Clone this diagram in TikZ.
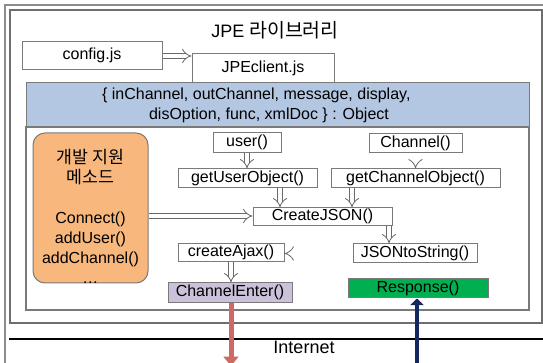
\documentclass[tikz,border=0pt]{standalone}
\usepackage{fontspec}
\setmainfont{Liberation Sans}
\newfontfamily\krfont[Scale=1.08]{Noto Sans CJK KR}
\usetikzlibrary{arrows.meta}
\definecolor{framegray}{HTML}{8C8C8C}
\definecolor{frametwo}{HTML}{6E6E6E}
\definecolor{boxgray}{HTML}{7A7A7A}
\definecolor{arrowgray}{HTML}{6A6A6A}
\definecolor{bluefill}{HTML}{B4C7E2}
\definecolor{orangefill}{HTML}{F8B77C}
\definecolor{lavender}{HTML}{CCC1DA}
\definecolor{greenfill}{HTML}{00B050}
\definecolor{redc}{HTML}{CD6A63}
\definecolor{navy}{HTML}{13285C}
\begin{document}
\begin{tikzpicture}[x=0.75pt,y=-0.75pt,
  font=\fontsize{12}{15}\selectfont,
  box/.style={draw=boxgray, line width=0.75pt, inner sep=0pt, fill=white},
  fbox/.style={box, text height=9pt, text depth=3pt},
  hollow/.style={draw=arrowgray, line width=0.6pt, double=white, double distance=3.2pt, -{Implies[scale=1.35]}}]
\useasboundingbox (0,0) rectangle (543,363);
% frames
\draw[framegray, line width=1.6pt] (5,375) -- (5,5) -- (560,5);
\draw[frametwo, line width=0.8pt] (10,10) rectangle (542,323);
\draw[boxgray, line width=0.8pt] (26,127) rectangle (529,310);
% title
\node (title) at (275,30) {\fontsize{13.5}{15}\selectfont JPE {\krfont 라이브러리}};
% top boxes
\node[fbox, minimum width=105pt, minimum height=21pt] (config) at (92,56) {config.js};
\node[fbox, minimum width=106.5pt, minimum height=21.75pt] (jpe) at (263,68.5) {JPEclient.js};
\node[box, fill=bluefill, minimum width=377.25pt, minimum height=33pt] (obj) at (277.5,105) {};
\node[align=center] (objtext) at (269,105) {\{ inChannel, outChannel, message, display,\rule{19pt}{0pt}\\disOption, func, xmlDoc \} : Object};
% orange box
\node[box, fill=orangefill, rounded corners=9pt, minimum width=86.25pt, minimum height=112.5pt] (dev) at (90.5,208) {};
\node[align=center] (devtext) at (90.5,216) {{\krfont 개발 지원}\\{\krfont 메소드}\\[15pt]Connect()\\addUser()\\addChannel()\\…};
% function boxes
\node[fbox, minimum width=51pt, minimum height=15pt] (user) at (247,143) {user()};
\node[fbox, minimum width=69.75pt, minimum height=14.25pt] (channel) at (415.5,143.5) {Channel()};
\node[fbox, minimum width=104.25pt, minimum height=14.25pt] (getUser) at (247.5,178.5) {getUserObject()};
\node[fbox, minimum width=126.75pt, minimum height=14.25pt] (getChannel) at (415.5,178.5) {getChannelObject()};
\node[fbox, minimum width=104.25pt, minimum height=13.5pt] (CreateJSON) at (322.5,217) {CreateJSON()};
\node[fbox, minimum width=79.5pt, minimum height=13.5pt] (createAjax) at (231,253) {createAjax()};
\node[fbox, minimum width=93pt, minimum height=14.25pt] (JSONtoString) at (415,253.5) {JSONtoString()};
\node[fbox, fill=lavender, minimum width=93pt, minimum height=15pt] (ChannelEnter) at (230,293) {ChannelEnter()};
\node[fbox, fill=greenfill, minimum width=105pt, minimum height=14.25pt] (Response) at (418,288.5) {Response()};
% hollow arrows
\draw[hollow] (config.east) -- (jpe.west |- config.east);
\draw[hollow] (user.south) -- (getUser.north -| user.south);
\draw[hollow] (channel.south) -- (getChannel.north -| channel.south);
\draw[hollow] (getUser.south -| 280,0) -- (CreateJSON.north -| 280,0);
\draw[hollow] (getChannel.south -| 352,0) -- (CreateJSON.north -| 352,0);
\draw[hollow] (dev.east |- 0,216) -- (CreateJSON.west |- 0,216);
\draw[hollow] (CreateJSON.south -| 389,0) -- (JSONtoString.north -| 389,0);
\draw[hollow] (JSONtoString.west) -- (createAjax.east |- JSONtoString.west);
\draw[hollow] (createAjax.south -| 231,0) -- (ChannelEnter.north -| 231,0);
% internet line
\draw[line width=1.6pt] (9,339) -- (560,339);
\node (inet) at (304,347.5) {\fontsize{13.5}{16}\selectfont Internet};
% network arrows
\coordinate (netout) at (231,366);
\coordinate (netin) at (417,375);
\draw[redc, line width=3.75pt, -{Triangle[length=7pt,width=11pt]}] (ChannelEnter.south -| 231,0) -- (netout);
\draw[navy, line width=3pt, -{Triangle[length=5pt,width=10pt]}] (netin) -- (Response.south -| 417,0);
\end{tikzpicture}
\end{document}
